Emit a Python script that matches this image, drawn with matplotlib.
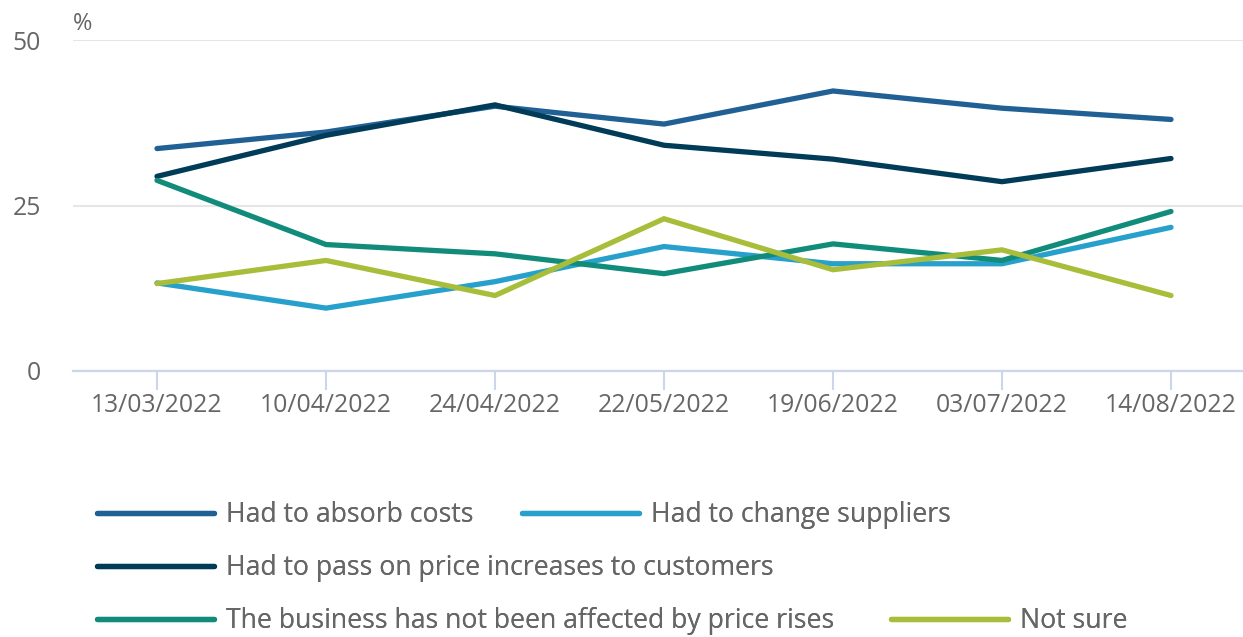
import matplotlib.pyplot as plt

dates = ['13/03/2022', '10/04/2022', '24/04/2022', '22/05/2022',
         '19/06/2022', '03/07/2022', '14/08/2022']

absorb_costs = [33.6, 36.1, 40.0, 37.3, 42.3, 39.7, 38.0]
change_suppliers = [13.3, 9.5, 13.5, 18.8, 16.2, 16.2, 21.7]
pass_on = [29.4, 35.6, 40.2, 34.1, 32.0, 28.6, 32.1]
not_affected = [28.8, 19.1, 17.7, 14.7, 19.2, 16.7, 24.1]
not_sure = [13.2, 16.7, 11.4, 23.0, 15.3, 18.3, 11.4]

series = [
    ('Had to absorb costs', absorb_costs, '#206095'),
    ('Had to change suppliers', change_suppliers, '#27a0cc'),
    ('Had to pass on price increases to customers', pass_on, '#003c57'),
    ('The business has not been affected by price rises', not_affected, '#118c7b'),
    ('Not sure', not_sure, '#a8bd3a'),
]

TEXT = '#666666'
plt.rcParams['font.family'] = ['Open Sans', 'DejaVu Sans']

fig = plt.figure(figsize=(12.43, 6.37), dpi=100)
ax = fig.add_axes([73 / 1243, 1 - 371 / 637, 1 - 73 / 1243, (371 - 40) / 637])

x = list(range(len(dates)))
handles = {}
for name, vals, col in series:
    ln, = ax.plot(x, vals, color=col, lw=3.8, solid_capstyle='round',
                  solid_joinstyle='miter', label=name, zorder=3)
    handles[name] = ln

ax.set_ylim(0, 50)
ax.set_xlim(-0.497, 6.426)
ax.set_yticks([0, 25, 50])
ax.set_xticks(x)
ax.set_xticklabels(dates)
ax.grid(axis='y', color='#e6e6e6', lw=1.5, zorder=0)
for s in ['top', 'right', 'left']:
    ax.spines[s].set_visible(False)
ax.spines['bottom'].set_color('#ccd6eb')
ax.spines['bottom'].set_linewidth(1.6)
ax.tick_params(axis='x', colors=TEXT, labelsize=17.8, length=14, width=1.5,
               color='#ccd6eb', pad=2)
ax.tick_params(axis='y', colors=TEXT, labelsize=17.8, length=0, pad=23)
ax.text(0.0, 1.012, '%', transform=ax.transAxes, color=TEXT, fontsize=17,
        va='bottom', ha='left')

# legend laid out in flowing rows like the original
rows = [
    [('Had to absorb costs', 97), ('Had to change suppliers', 522)],
    [('Had to pass on price increases to customers', 97)],
    [('The business has not been affected by price rises', 97), ('Not sure', 891)],
]
row_y = [515, 568, 621]
for row, yy in zip(rows, row_y):
    for name, xx in row:
        leg = fig.legend(handles=[handles[name]], loc='center left',
                         bbox_to_anchor=(xx / 1243, 1 - yy / 637),
                         frameon=False, fontsize=19.2, handlelength=4.4,
                         handletextpad=0.45, borderaxespad=0, borderpad=0,
                         labelcolor=TEXT)
        fig.add_artist(leg)

fig.savefig('out.png', dpi=100)
